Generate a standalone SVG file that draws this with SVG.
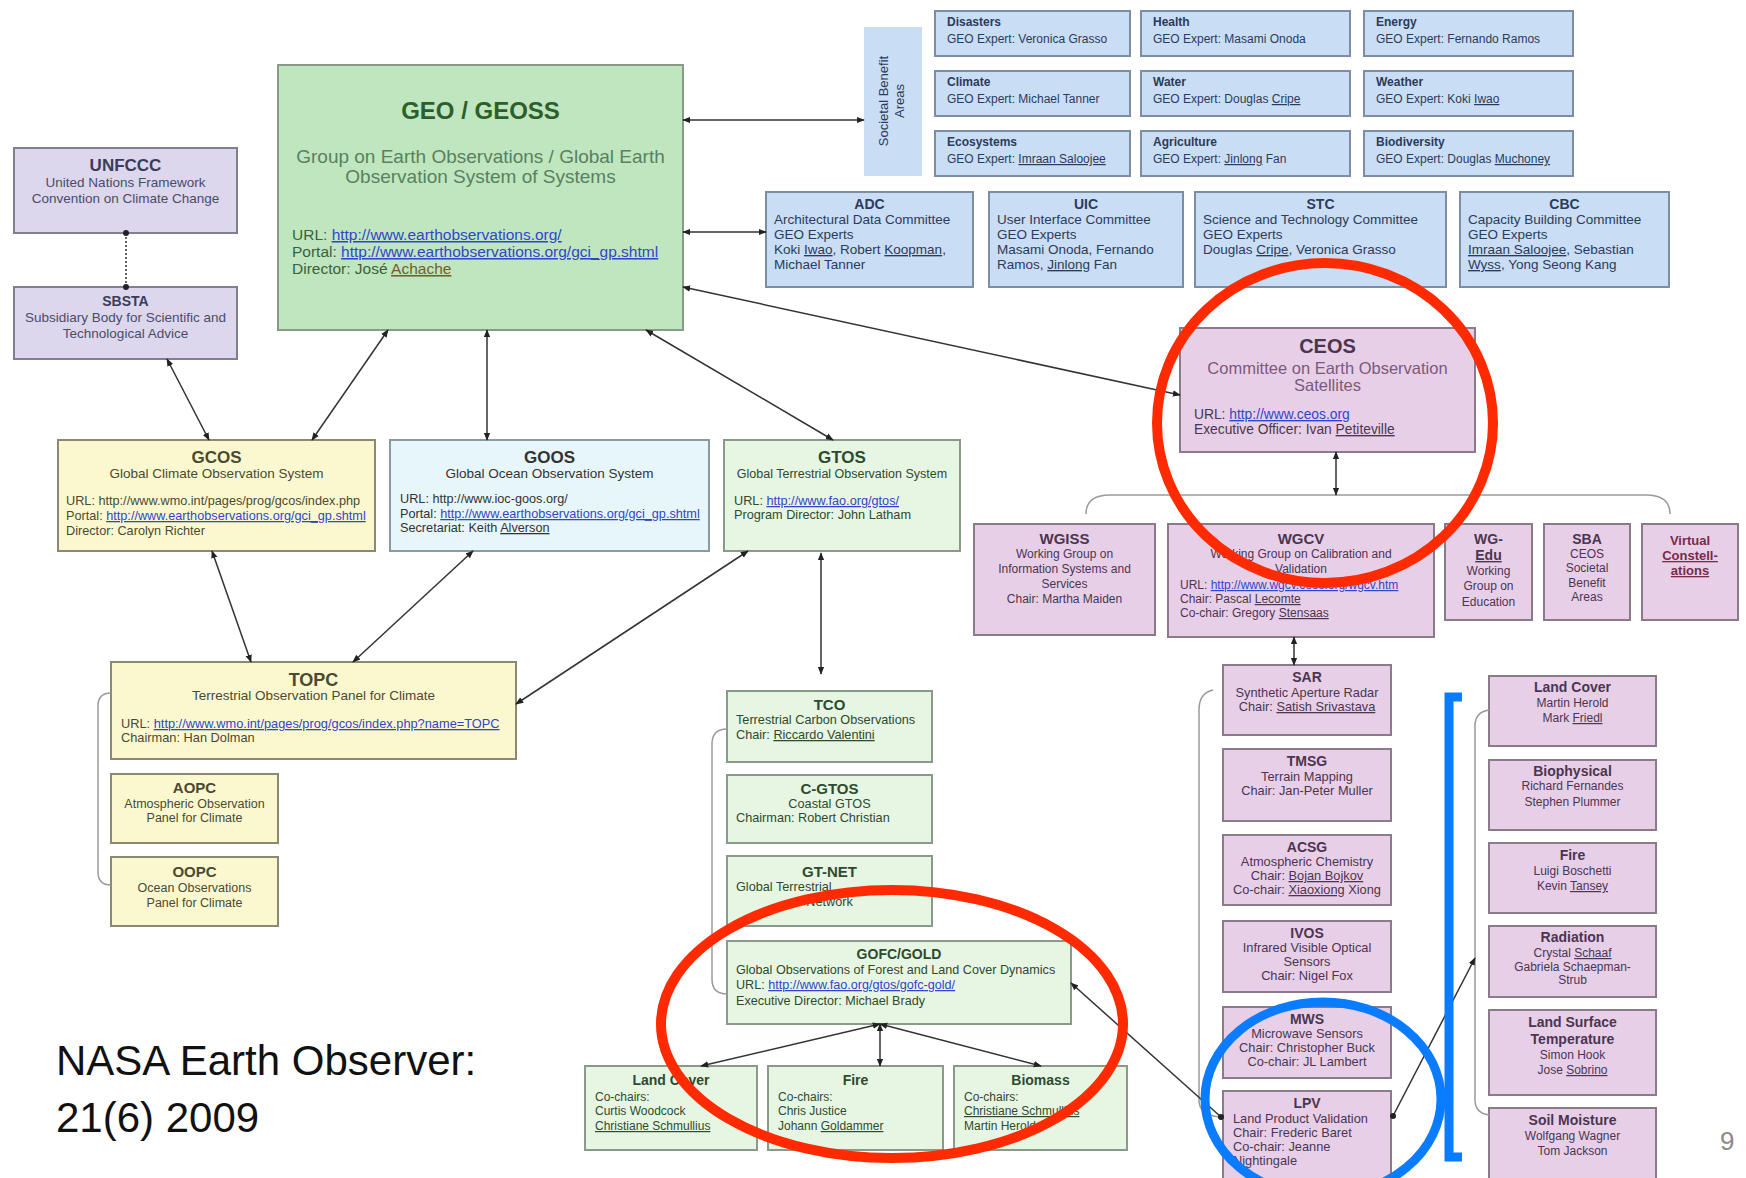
<svg xmlns="http://www.w3.org/2000/svg" width="1746" height="1178" viewBox="0 0 1746 1178" font-size="12">
<defs>
<marker id="ah" viewBox="0 0 10 10" refX="9" refY="5" markerWidth="8" markerHeight="8" orient="auto-start-reverse" markerUnits="userSpaceOnUse"><path d="M0,1 L10,5 L0,9 z" fill="#222"/></marker>
<marker id="dot" viewBox="0 0 10 10" refX="5" refY="5" markerWidth="6" markerHeight="6" markerUnits="userSpaceOnUse"><circle cx="5" cy="5" r="5" fill="#222"/></marker>
</defs>
<style>
text{font-family:"Liberation Sans",Arial,sans-serif;fill:#333}
.c{text-anchor:middle}
.t{font-weight:bold}
.bx{stroke-width:2}
.sba{fill:#c9ddf4;stroke:#7d8ea4}
.geo{fill:#bfe6bf;stroke:#8a9a8a}
.lav{fill:#dcd7ec;stroke:#7f7f8f}
.yel{fill:#fbf8d0;stroke:#8a8a70}
.cya{fill:#e6f6fa;stroke:#8a9aa0}
.grn{fill:#e6f6e2;stroke:#8a9a8a}
.pnk{fill:#e8cfe8;stroke:#8a7a8a}
.lk{fill:#3344cc;text-decoration:underline}
.ul{text-decoration:underline}
.sb text{fill:#2b3b5b}
.pk text{fill:#4b3550}
.gr text{fill:#2f4a2f}
.yl text{fill:#4a4a30}
.con{fill:none;stroke:#333;stroke-width:1.5}
.brk{fill:none;stroke:#9a9a9a;stroke-width:1.5}
.red{fill:none;stroke:#ff2a00;stroke-width:10}
.blu{fill:none;stroke:#0a7cff;stroke-width:9}
</style>

<!-- Societal benefit areas -->
<g id="societal" class="sb">
<rect x="864" y="27" width="58" height="149" fill="#c9ddf4"/>
<text class="c" font-size="13" transform="translate(892,101) rotate(-90)"><tspan x="0" y="-4">Societal Benefit</tspan><tspan x="0" y="12">Areas</tspan></text>
</g>
<g id="disasters" class="sb"><rect class="bx sba" x="935" y="11" width="195" height="45"/><text class="t" x="947" y="26">Disasters</text><text x="947" y="43">GEO Expert: Veronica Grasso</text></g>
<g id="health" class="sb"><rect class="bx sba" x="1141" y="11" width="209" height="45"/><text class="t" x="1153" y="26">Health</text><text x="1153" y="43">GEO Expert: Masami Onoda</text></g>
<g id="energy" class="sb"><rect class="bx sba" x="1364" y="11" width="209" height="45"/><text class="t" x="1376" y="26">Energy</text><text x="1376" y="43">GEO Expert: Fernando Ramos</text></g>
<g id="climate" class="sb"><rect class="bx sba" x="935" y="71" width="195" height="45"/><text class="t" x="947" y="86">Climate</text><text x="947" y="103">GEO Expert: Michael Tanner</text></g>
<g id="water" class="sb"><rect class="bx sba" x="1141" y="71" width="209" height="45"/><text class="t" x="1153" y="86">Water</text><text x="1153" y="103">GEO Expert: Douglas <tspan class="ul">Cripe</tspan></text></g>
<g id="weather" class="sb"><rect class="bx sba" x="1364" y="71" width="209" height="45"/><text class="t" x="1376" y="86">Weather</text><text x="1376" y="103">GEO Expert: Koki <tspan class="ul">Iwao</tspan></text></g>
<g id="ecosystems" class="sb"><rect class="bx sba" x="935" y="131" width="195" height="45"/><text class="t" x="947" y="146">Ecosystems</text><text x="947" y="163">GEO Expert: <tspan class="ul">Imraan Saloojee</tspan></text></g>
<g id="agriculture" class="sb"><rect class="bx sba" x="1141" y="131" width="209" height="45"/><text class="t" x="1153" y="146">Agriculture</text><text x="1153" y="163">GEO Expert: <tspan class="ul">Jinlong</tspan> Fan</text></g>
<g id="biodiversity" class="sb"><rect class="bx sba" x="1364" y="131" width="209" height="45"/><text class="t" x="1376" y="146">Biodiversity</text><text x="1376" y="163">GEO Expert: Douglas <tspan class="ul">Muchoney</tspan></text></g>

<!-- Committees -->
<g id="adc" class="sb" font-size="13.5"><rect class="bx sba" x="766" y="192" width="207" height="95"/><text class="c t" x="869.5" y="209" font-size="14">ADC</text><text x="774" y="224">Architectural Data Committee</text><text x="774" y="239">GEO Experts</text><text x="774" y="254">Koki <tspan class="ul">Iwao</tspan>, Robert <tspan class="ul">Koopman</tspan>,</text><text x="774" y="269">Michael Tanner</text></g>
<g id="uic" class="sb" font-size="13.5"><rect class="bx sba" x="989" y="192" width="194" height="95"/><text class="c t" x="1086" y="209" font-size="14">UIC</text><text x="997" y="224">User Interface Committee</text><text x="997" y="239">GEO Experts</text><text x="997" y="254">Masami Onoda, Fernando</text><text x="997" y="269">Ramos, <tspan class="ul">Jinlong</tspan> Fan</text></g>
<g id="stc" class="sb" font-size="13.5"><rect class="bx sba" x="1195" y="192" width="251" height="95"/><text class="c t" x="1320.5" y="209" font-size="14">STC</text><text x="1203" y="224">Science and Technology Committee</text><text x="1203" y="239">GEO Experts</text><text x="1203" y="254">Douglas <tspan class="ul">Cripe</tspan>, Veronica Grasso</text></g>
<g id="cbc" class="sb" font-size="13.5"><rect class="bx sba" x="1460" y="192" width="209" height="95"/><text class="c t" x="1564.5" y="209" font-size="14">CBC</text><text x="1468" y="224">Capacity Building Committee</text><text x="1468" y="239">GEO Experts</text><text x="1468" y="254"><tspan class="ul">Imraan Saloojee</tspan>, Sebastian</text><text x="1468" y="269"><tspan class="ul">Wyss</tspan>, Yong Seong Kang</text></g>

<!-- GEO -->
<g id="geo"><rect class="bx geo" x="278" y="65" width="405" height="265"/>
<text class="c t" x="480.5" y="119" font-size="24" style="fill:#2d5e2d">GEO / GEOSS</text>
<text class="c" x="480.5" y="163" font-size="19" style="fill:#5a8060">Group on Earth Observations / Global Earth</text>
<text class="c" x="480.5" y="183" font-size="19" style="fill:#5a8060">Observation System of Systems</text>
<text x="292" y="240" font-size="15.5" style="fill:#3d5e3d">URL: <tspan class="lk">http://www.earthobservations.org/</tspan></text>
<text x="292" y="257" font-size="15.5" style="fill:#3d5e3d">Portal: <tspan class="lk">http://www.earthobservations.org/gci_gp.shtml</tspan></text>
<text x="292" y="274" font-size="15.5" style="fill:#3d5e3d">Director: José <tspan class="ul" style="fill:#7a5a2a">Achache</tspan></text>
</g>

<!-- UNFCCC / SBSTA -->
<g id="unfccc" font-size="13.5"><rect class="bx lav" x="14" y="148" width="223" height="85"/><text class="c t" x="125.5" y="171" font-size="17" style="fill:#3b3b5b">UNFCCC</text><text class="c" x="125.5" y="187" style="fill:#4b4b6b">United Nations Framework</text><text class="c" x="125.5" y="203" style="fill:#4b4b6b">Convention on Climate Change</text></g>
<g id="sbsta" font-size="13.5"><rect class="bx lav" x="14" y="287" width="223" height="72"/><text class="c t" x="125.5" y="306" font-size="14" style="fill:#3b3b5b">SBSTA</text><text class="c" x="125.5" y="322" style="fill:#4b4b6b">Subsidiary Body for Scientific and</text><text class="c" x="125.5" y="338" style="fill:#4b4b6b">Technological Advice</text></g>

<!-- GCOS GOOS GTOS -->
<g id="gcos" class="yl" font-size="12.7"><rect class="bx yel" x="58" y="440" width="317" height="111"/><text class="c t" x="216.5" y="463" font-size="17">GCOS</text><text class="c" x="216.5" y="478" font-size="13.5">Global Climate Observation System</text><text x="66" y="505">URL: http://www.wmo.int/pages/prog/gcos/index.php</text><text x="66" y="520">Portal: <tspan class="lk">http://www.earthobservations.org/gci_gp.shtml</tspan></text><text x="66" y="535">Director: Carolyn Richter</text></g>
<g id="goos" font-size="12.7"><rect class="bx cya" x="390" y="440" width="319" height="111"/><text class="c t" x="549.5" y="463" font-size="17">GOOS</text><text class="c" x="549.5" y="478" font-size="13.5">Global Ocean Observation System</text><text x="400" y="503">URL: http://www.ioc-goos.org/</text><text x="400" y="518">Portal: <tspan class="lk">http://www.earthobservations.org/gci_gp.shtml</tspan></text><text x="400" y="532">Secretariat: Keith <tspan class="ul">Alverson</tspan></text></g>
<g id="gtos" class="gr" font-size="12.7"><rect class="bx grn" x="724" y="440" width="236" height="111"/><text class="c t" x="842" y="463" font-size="17">GTOS</text><text class="c" x="842" y="478" font-size="12.5">Global Terrestrial Observation System</text><text x="734" y="505">URL: <tspan class="lk">http://www.fao.org/gtos/</tspan></text><text x="734" y="519">Program Director: John Latham</text></g>

<!-- TOPC AOPC OOPC -->
<g id="topc" class="yl"><rect class="bx yel" x="111" y="662" width="405" height="97"/><text class="c t" x="313.5" y="686" font-size="18">TOPC</text><text class="c" x="313.5" y="700" font-size="13.5">Terrestrial Observation Panel for Climate</text><text x="121" y="728" font-size="12.8">URL: <tspan class="lk">http://www.wmo.int/pages/prog/gcos/index.php?name=TOPC</tspan></text><text x="121" y="742" font-size="12.8">Chairman: Han Dolman</text></g>
<g id="aopc" class="yl" font-size="12.5"><rect class="bx yel" x="111" y="774" width="167" height="69"/><text class="c t" x="194.5" y="793" font-size="15">AOPC</text><text class="c" x="194.5" y="808">Atmospheric Observation</text><text class="c" x="194.5" y="822">Panel for Climate</text></g>
<g id="oopc" class="yl" font-size="12.5"><rect class="bx yel" x="111" y="857" width="167" height="69"/><text class="c t" x="194.5" y="877" font-size="15">OOPC</text><text class="c" x="194.5" y="892">Ocean Observations</text><text class="c" x="194.5" y="907">Panel for Climate</text></g>

<!-- GTOS children -->
<g id="tco" class="gr" font-size="12.7"><rect class="bx grn" x="727" y="691" width="205" height="71"/><text class="c t" x="829.5" y="710" font-size="15">TCO</text><text x="736" y="724">Terrestrial Carbon Observations</text><text x="736" y="739">Chair: <tspan class="ul">Riccardo Valentini</tspan></text></g>
<g id="cgtos" class="gr" font-size="12.7"><rect class="bx grn" x="727" y="775" width="205" height="68"/><text class="c t" x="829.5" y="794" font-size="15">C-GTOS</text><text class="c" x="829.5" y="808">Coastal GTOS</text><text x="736" y="822">Chairman: Robert Christian</text></g>
<g id="gtnet" class="gr" font-size="12.7"><rect class="bx grn" x="727" y="856" width="205" height="70"/><text class="c t" x="829.5" y="877" font-size="15">GT-NET</text><text x="736" y="891">Global Terrestrial</text><text class="c" x="829.5" y="906">Network</text></g>
<g id="gofc" class="gr" font-size="12.6"><rect class="bx grn" x="727" y="941" width="344" height="83"/><text class="c t" x="899" y="959" font-size="14">GOFC/GOLD</text><text x="736" y="974">Global Observations of Forest and Land Cover Dynamics</text><text x="736" y="989">URL: <tspan class="lk">http://www.fao.org/gtos/gofc-gold/</tspan></text><text x="736" y="1005">Executive Director: Michael Brady</text></g>
<g id="gofc-landcover" class="gr"><rect class="bx grn" x="585" y="1066" width="172" height="84"/><text class="c t" x="671" y="1085" font-size="14">Land Cover</text><text x="595" y="1101">Co-chairs:</text><text x="595" y="1115">Curtis Woodcock</text><text x="595" y="1130" class="ul">Christiane Schmullius</text></g>
<g id="gofc-fire" class="gr"><rect class="bx grn" x="768" y="1066" width="175" height="84"/><text class="c t" x="855.5" y="1085" font-size="14">Fire</text><text x="778" y="1101">Co-chairs:</text><text x="778" y="1115">Chris Justice</text><text x="778" y="1130">Johann <tspan class="ul">Goldammer</tspan></text></g>
<g id="gofc-biomass" class="gr"><rect class="bx grn" x="954" y="1066" width="173" height="84"/><text class="c t" x="1040.5" y="1085" font-size="14">Biomass</text><text x="964" y="1101">Co-chairs:</text><text x="964" y="1115" class="ul">Christiane Schmullius</text><text x="964" y="1130">Martin Herold</text></g>

<!-- CEOS -->
<g id="ceos" class="pk"><rect class="bx pnk" x="1180" y="328" width="295" height="124"/><text class="c t" x="1327.5" y="353" font-size="20">CEOS</text><text class="c" x="1327.5" y="374" font-size="16.5" style="fill:#7a5a7a">Committee on Earth Observation</text><text class="c" x="1327.5" y="391" font-size="16.5" style="fill:#7a5a7a">Satellites</text><text x="1194" y="419" font-size="13.8">URL: <tspan class="lk">http://www.ceos.org</tspan></text><text x="1194" y="434" font-size="13.8">Executive Officer: Ivan <tspan class="ul">Petiteville</tspan></text></g>
<g id="wgiss" class="pk"><rect class="bx pnk" x="974" y="524" width="181" height="111"/><text class="c t" x="1064.5" y="544" font-size="15">WGISS</text><text class="c" x="1064.5" y="558">Working Group on</text><text class="c" x="1064.5" y="573">Information Systems and</text><text class="c" x="1064.5" y="588">Services</text><text class="c" x="1064.5" y="603">Chair: Martha Maiden</text></g>
<g id="wgcv" class="pk"><rect class="bx pnk" x="1168" y="524" width="266" height="113"/><text class="c t" x="1301" y="544" font-size="15">WGCV</text><text class="c" x="1301" y="558">Working Group on Calibration and</text><text class="c" x="1301" y="573">Validation</text><text x="1180" y="589">URL: <tspan class="lk">http://www.wgcv.ceos.org/wgcv.htm</tspan></text><text x="1180" y="603">Chair: Pascal <tspan class="ul">Lecomte</tspan></text><text x="1180" y="617">Co-chair: Gregory <tspan class="ul">Stensaas</tspan></text></g>
<g id="wgedu" class="pk"><rect class="bx pnk" x="1445" y="524" width="87" height="96"/><text class="c t" x="1488.5" y="544" font-size="14">WG-</text><text class="c t ul" x="1488.5" y="560" font-size="14">Edu</text><text class="c" x="1488.5" y="575">Working</text><text class="c" x="1488.5" y="590">Group on</text><text class="c" x="1488.5" y="606">Education</text></g>
<g id="sba" class="pk"><rect class="bx pnk" x="1544" y="524" width="86" height="96"/><text class="c t" x="1587" y="544" font-size="14">SBA</text><text class="c" x="1587" y="558">CEOS</text><text class="c" x="1587" y="572">Societal</text><text class="c" x="1587" y="587">Benefit</text><text class="c" x="1587" y="601">Areas</text></g>
<g id="virtual" class="pk"><rect class="bx pnk" x="1642" y="524" width="96" height="96"/><text class="c t" x="1690" y="545" font-size="13" style="fill:#7a2a4a">Virtual</text><text class="c t ul" x="1690" y="560" font-size="13" style="fill:#7a2a4a">Constell-</text><text class="c t ul" x="1690" y="575" font-size="13" style="fill:#7a2a4a">ations</text></g>

<!-- WGCV subgroups -->
<g id="sar" class="pk" font-size="12.8"><rect class="bx pnk" x="1223" y="665" width="168" height="70"/><text class="c t" x="1307" y="682" font-size="14">SAR</text><text class="c" x="1307" y="697">Synthetic Aperture Radar</text><text class="c" x="1307" y="711">Chair: <tspan class="ul">Satish Srivastava</tspan></text></g>
<g id="tmsg" class="pk" font-size="12.8"><rect class="bx pnk" x="1223" y="749" width="168" height="72"/><text class="c t" x="1307" y="766" font-size="14">TMSG</text><text class="c" x="1307" y="781">Terrain Mapping</text><text class="c" x="1307" y="795">Chair: Jan-Peter Muller</text></g>
<g id="acsg" class="pk" font-size="12.8"><rect class="bx pnk" x="1223" y="835" width="168" height="70"/><text class="c t" x="1307" y="852" font-size="14">ACSG</text><text class="c" x="1307" y="866">Atmospheric Chemistry</text><text class="c" x="1307" y="880">Chair: <tspan class="ul">Bojan Bojkov</tspan></text><text class="c" x="1307" y="894">Co-chair: <tspan class="ul">Xiaoxiong</tspan> Xiong</text></g>
<g id="ivos" class="pk" font-size="12.8"><rect class="bx pnk" x="1223" y="921" width="168" height="71"/><text class="c t" x="1307" y="938" font-size="14">IVOS</text><text class="c" x="1307" y="952">Infrared Visible Optical</text><text class="c" x="1307" y="966">Sensors</text><text class="c" x="1307" y="980">Chair: Nigel Fox</text></g>
<g id="mws" class="pk" font-size="12.8"><rect class="bx pnk" x="1223" y="1007" width="168" height="71"/><text class="c t" x="1307" y="1024" font-size="14">MWS</text><text class="c" x="1307" y="1038">Microwave Sensors</text><text class="c" x="1307" y="1052">Chair: Christopher Buck</text><text class="c" x="1307" y="1066">Co-chair: JL Lambert</text></g>
<g id="lpv" class="pk" font-size="12.8"><rect class="bx pnk" x="1223" y="1091" width="168" height="92"/><text class="c t" x="1307" y="1108" font-size="14">LPV</text><text x="1233" y="1123">Land Product Validation</text><text x="1233" y="1137">Chair: Frederic Baret</text><text x="1233" y="1151">Co-chair: Jeanne</text><text x="1233" y="1165">Nightingale</text></g>

<!-- LPV subgroups -->
<g id="lpv-landcover" class="pk"><rect class="bx pnk" x="1489" y="676" width="167" height="70"/><text class="c t" x="1572.5" y="692" font-size="14">Land Cover</text><text class="c" x="1572.5" y="707">Martin Herold</text><text class="c" x="1572.5" y="722">Mark <tspan class="ul">Friedl</tspan></text></g>
<g id="lpv-biophysical" class="pk"><rect class="bx pnk" x="1489" y="760" width="167" height="70"/><text class="c t" x="1572.5" y="776" font-size="14">Biophysical</text><text class="c" x="1572.5" y="790">Richard Fernandes</text><text class="c" x="1572.5" y="806">Stephen Plummer</text></g>
<g id="lpv-fire" class="pk"><rect class="bx pnk" x="1489" y="843" width="167" height="70"/><text class="c t" x="1572.5" y="860" font-size="14">Fire</text><text class="c" x="1572.5" y="875">Luigi Boschetti</text><text class="c" x="1572.5" y="890">Kevin <tspan class="ul">Tansey</tspan></text></g>
<g id="lpv-radiation" class="pk"><rect class="bx pnk" x="1489" y="926" width="167" height="71"/><text class="c t" x="1572.5" y="942" font-size="14">Radiation</text><text class="c" x="1572.5" y="957">Crystal <tspan class="ul">Schaaf</tspan></text><text class="c" x="1572.5" y="971">Gabriela Schaepman-</text><text class="c" x="1572.5" y="984">Strub</text></g>
<g id="lpv-lst" class="pk"><rect class="bx pnk" x="1489" y="1010" width="167" height="85"/><text class="c t" x="1572.5" y="1027" font-size="14">Land Surface</text><text class="c t" x="1572.5" y="1044" font-size="14">Temperature</text><text class="c" x="1572.5" y="1059">Simon Hook</text><text class="c" x="1572.5" y="1074">Jose <tspan class="ul">Sobrino</tspan></text></g>
<g id="lpv-soil" class="pk"><rect class="bx pnk" x="1489" y="1108" width="167" height="75"/><text class="c t" x="1572.5" y="1125" font-size="14">Soil Moisture</text><text class="c" x="1572.5" y="1140">Wolfgang Wagner</text><text class="c" x="1572.5" y="1155">Tom Jackson</text></g>

<!-- connectors -->
<g id="connectors">
<path class="brk" d="M111,693 Q98,693 98,706 L98,872 Q98,885 111,885"/>
<path class="brk" d="M727,729 Q712,729 712,744 L712,979 Q712,994 727,994"/>
<path class="brk" d="M1213,690 Q1199,693 1199,710 L1199,1100 Q1199,1116 1221,1117"/>
<path class="brk" d="M1489,710 Q1475,712 1475,726 L1475,1100 Q1475,1113 1489,1115"/>
<path class="brk" d="M1086,514 Q1086,495 1110,495 L1646,495 Q1670,495 1670,514"/>
<path class="con" d="M683,120 L864,120" marker-start="url(#ah)" marker-end="url(#ah)"/>
<path class="con" d="M683,232 L766,232" marker-start="url(#ah)" marker-end="url(#ah)"/>
<path class="con" d="M683,287 L1180,395" marker-start="url(#ah)" marker-end="url(#ah)"/>
<path class="con" d="M388,330 L312,440" marker-start="url(#ah)" marker-end="url(#ah)"/>
<path class="con" d="M487,330 L487,440" marker-start="url(#ah)" marker-end="url(#ah)"/>
<path class="con" d="M646,330 L833,440" marker-start="url(#ah)" marker-end="url(#ah)"/>
<path class="con" d="M126,233 L126,287" stroke-dasharray="2,2" marker-start="url(#dot)" marker-end="url(#dot)"/>
<path class="con" d="M167,359 L209,440" marker-start="url(#ah)" marker-end="url(#ah)"/>
<path class="con" d="M212,551 L251,662" marker-start="url(#ah)" marker-end="url(#ah)"/>
<path class="con" d="M473,551 L353,662" marker-start="url(#ah)" marker-end="url(#ah)"/>
<path class="con" d="M748,551 L516,704" marker-start="url(#ah)" marker-end="url(#ah)"/>
<path class="con" d="M821,553 L821,674" marker-start="url(#ah)" marker-end="url(#ah)"/>
<path class="con" d="M1336,452 L1336,495" marker-start="url(#ah)" marker-end="url(#ah)"/>
<path class="con" d="M1294,637 L1294,665" marker-start="url(#ah)" marker-end="url(#ah)"/>
<path class="con" d="M1221,1117 L1071,983" marker-start="url(#dot)" marker-end="url(#ah)"/>
<path class="con" d="M1393,1116 L1475,958" marker-start="url(#dot)" marker-end="url(#ah)"/>
<path class="con" d="M880,1024 L701,1066" marker-start="url(#ah)" marker-end="url(#ah)"/>
<path class="con" d="M880,1024 L880,1066" marker-start="url(#ah)" marker-end="url(#ah)"/>
<path class="con" d="M880,1024 L1041,1066" marker-start="url(#ah)" marker-end="url(#ah)"/>
</g>

<!-- annotations -->
<g id="annotations">
<ellipse class="red" cx="1325" cy="423" rx="168" ry="160"/>
<ellipse class="red" cx="892" cy="1024" rx="231" ry="134"/>
<ellipse class="blu" cx="1323" cy="1099" rx="118" ry="97"/>
<path class="blu" d="M1462,697 L1449,697 L1449,1157 L1462,1157"/>
</g>

<g id="caption">
<text x="56" y="1075" font-size="42" style="fill:#111">NASA Earth Observer:</text>
<text x="56" y="1132" font-size="42" style="fill:#111">21(6) 2009</text>
<text x="1720" y="1150" font-size="26" style="fill:#8a8a8a">9</text>
</g>
</svg>
